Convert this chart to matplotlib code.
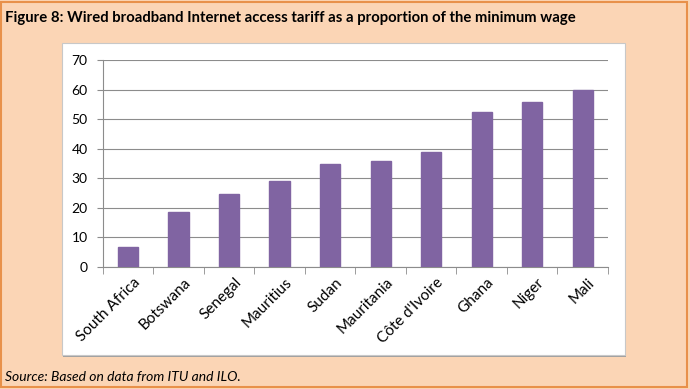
import matplotlib.pyplot as plt
import matplotlib.transforms as mtransforms
from matplotlib.patches import Rectangle

# data
countries = ["South Africa", "Botswana", "Senegal", "Mauritius", "Sudan",
             "Mauritania", "Côte d'Ivoire", "Ghana", "Niger", "Mali"]
tariff_share = [6.7, 18.6, 24.8, 29.2, 34.7, 36.0, 39.0, 52.3, 55.8, 60.0]
y_ticks = [0, 10, 20, 30, 40, 50, 60, 70]

plt.rcParams['font.family'] = ['Lato', 'DejaVu Sans']

fig = plt.figure(figsize=(6.9, 3.89), dpi=100)
fig.patch.set_facecolor("#FBD5B5")

# orange frame round the whole figure
fig.patches.append(Rectangle((0.002, 0.004), 0.994, 0.99, transform=fig.transFigure,
                             fill=False, edgecolor="#E8914A", linewidth=1.5, zorder=-2))

# white chart box (with a faint shadow)
fig.patches.append(Rectangle((0.0915, 0.082), 0.816, 0.803, transform=fig.transFigure,
                             facecolor="#A0A0A0", edgecolor="none", zorder=-2))
fig.patches.append(Rectangle((0.0899, 0.087), 0.816, 0.802, transform=fig.transFigure,
                             facecolor="white", edgecolor="#C8C8C8", linewidth=0.8, zorder=-1))

fig.text(0.007, 0.953, "Figure 8: Wired broadband Internet access tariff as a proportion of the minimum wage",
         fontsize=10.7, fontweight="bold", va="center", ha="left")
fig.text(0.007, 0.03, "Source: Based on data from ITU and ILO.",
         fontsize=10, style="italic", va="center", ha="left")

ax = fig.add_axes([0.149, 0.3136, 0.732, 0.532])
ax.set_facecolor("white")
x = range(len(countries))
ax.bar(x, tariff_share, width=0.4, color="#8064A2", edgecolor="#8064A2", zorder=3)

ax.set_ylim(0, 70)
ax.set_xlim(-0.5, len(countries) - 0.5)
ax.set_yticks(y_ticks)
ax.yaxis.grid(True, color="#8C8C8C", linewidth=0.8, zorder=0)
ax.tick_params(axis="y", length=4, color="#8C8C8C", labelsize=10, pad=7)

ax.set_xticks(x)
ax.set_xticklabels(countries, rotation=45, ha="right", va="top",
                   rotation_mode="anchor", fontsize=11)
ax.tick_params(axis="x", length=0, pad=6)
shift = mtransforms.ScaledTranslation(5 / 100, 0, fig.dpi_scale_trans)
for lab in ax.get_xticklabels():
    lab.set_transform(lab.get_transform() + shift)
ax.set_xticks([i - 0.5 for i in range(len(countries) + 1)], minor=True)
ax.tick_params(axis="x", which="minor", length=5, color="#8C8C8C")

for s in ["top", "right"]:
    ax.spines[s].set_visible(False)
ax.spines["left"].set_color("#8C8C8C")
ax.spines["bottom"].set_color("#8C8C8C")

fig.savefig("out.png", dpi=100, facecolor=fig.get_facecolor())
